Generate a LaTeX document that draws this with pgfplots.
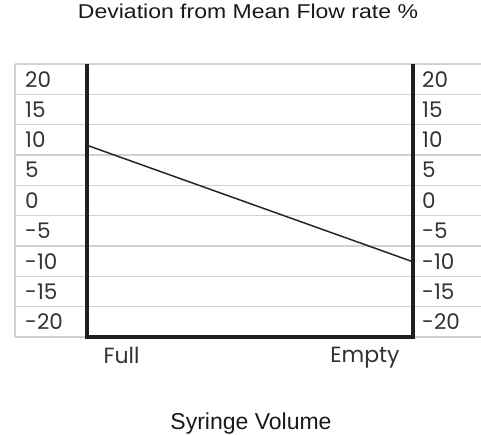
\documentclass[border=0pt]{standalone}
\usepackage{fontspec}
\setmainfont{Liberation Sans}
\newfontfamily\tickfont{Poppins}
\usepackage{pgfplots}
\pgfplotsset{compat=1.18}

\begin{document}
\begin{tikzpicture}[x=1pt,y=1pt]
\useasboundingbox (-15,-98) rectangle (466,337);
% main axis: grid, left labels, black frame, data line
\begin{axis}[
    at={(0,0)}, anchor=south west,
    scale only axis, width=466pt, height=273pt,
    xmin=-0.221, xmax=1.209,
    ymin=-22.5, ymax=22.5,
    axis line style={draw=none},
    ytick={-20,-15,...,20},
    yticklabels={-20,-15,-10,-5,0,5,10,15,20},
    minor ytick={-22.5,-17.5,...,22.5},
    ymajorgrids=false, yminorgrids=true,
    minor grid style={color=black!18, line width=1.3pt},
    major tick length=0pt, minor tick length=0pt,
    ytick pos=left,
    yticklabel style={font=\tickfont\fontsize{21.5}{21.5}\selectfont, anchor=west, inner sep=0pt, xshift=10pt, text=black!80},
    xtick={0.106,0.853},
    xticklabels={Full,Empty},
    xtick pos=bottom,
    xticklabel style={font=\tickfont\fontsize{22}{22}\selectfont, anchor=north, inner sep=0pt, yshift=-10pt, text=black!80},
    title={\scalebox{1.15}[1]{Deviation from Mean Flow rate \%}},
    title style={font=\fontsize{20}{20}\selectfont, at={(0.5,1)}, anchor=base, yshift=39pt, inner sep=0pt, text=black!90},
    xlabel={Syringe Volume},
    xlabel style={font=\fontsize{23}{23}\selectfont, at={(0.5,0)}, anchor=base, yshift=-92pt, xshift=3pt, inner sep=0pt, text=black!90},
    clip=false,
]
% left gray border of the grid
\addplot[color=black!18, line width=1.3pt] coordinates {(-0.221,22.5) (-0.221,-22.5)};
% black frame
\addplot[color=black!88, line width=3.2pt, line join=miter] coordinates {(0,22.5) (0,-22.5) (1,-22.5) (1,22.5)};
% deviation line
\addplot[color=black!85, line width=1.5pt] coordinates {(0,9.1) (1,-10.1)};
\end{axis}
% second axis only for the right hand labels
\begin{axis}[
    at={(0,0)}, anchor=south west,
    scale only axis, width=398pt, height=273pt,
    xmin=-0.221, xmax=1,
    ymin=-22.5, ymax=22.5,
    axis line style={draw=none},
    xtick=\empty,
    ytick={-20,-15,...,20},
    yticklabels={-20,-15,-10,-5,0,5,10,15,20},
    major tick length=0pt,
    ytick pos=right, yticklabel pos=right,
    yticklabel style={font=\tickfont\fontsize{21.5}{21.5}\selectfont, anchor=west, inner sep=0pt, xshift=9pt, text=black!80},
]
\end{axis}
\end{tikzpicture}
\end{document}
